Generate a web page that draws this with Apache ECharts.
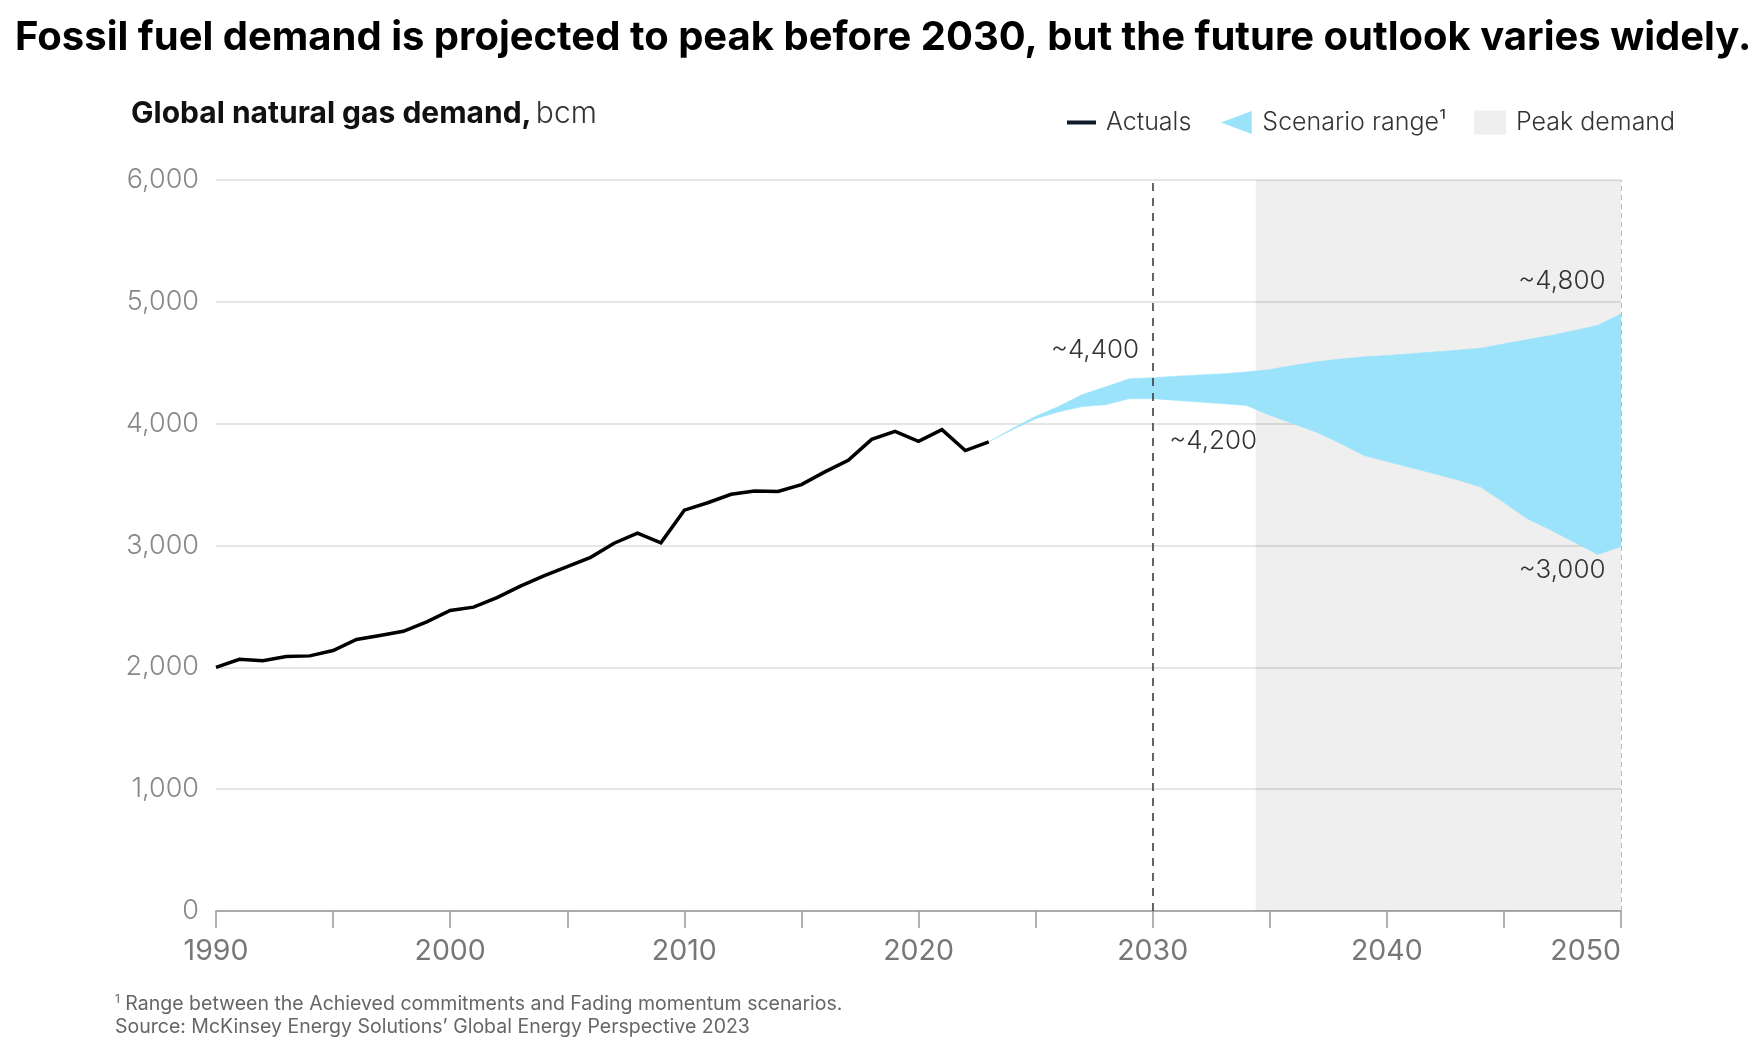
<!DOCTYPE html>
<html>
<head>
<meta charset="utf-8">
<title>Global natural gas demand</title>
<script src="https://cdn.jsdelivr.net/npm/echarts@6/dist/echarts.min.js"></script>
<style>
  html, body { margin: 0; padding: 0; background: #fff; }
  #chart { width: 1756px; height: 1055px; }
</style>
</head>
<body>
<div id="chart"></div>
<script>
// data (bcm)
var actualYears = [1990,1991,1992,1993,1994,1995,1996,1997,1998,1999,2000,2001,2002,2003,2004,2005,2006,2007,2008,2009,2010,2011,2012,2013,2014,2015,2016,2017,2018,2019,2020,2021,2022,2023];
var actuals = [2000,2066,2055,2088,2094,2138,2229,2262,2296,2373,2467,2494,2572,2666,2751,2826,2903,3019,3102,3022,3290,3351,3420,3448,3443,3500,3604,3700,3871,3937,3855,3951,3779,3850];

var scenarioYears = [2023,2024,2025,2026,2027,2028,2029,2030,2031,2032,2033,2034,2035,2036,2037,2038,2039,2040,2041,2042,2043,2044,2045,2046,2047,2048,2049,2050];
var scenarioHigh = [3850,3960,4060,4143,4240,4303,4369,4377,4390,4400,4410,4425,4445,4478,4508,4530,4549,4560,4574,4588,4603,4620,4655,4690,4724,4765,4806,4902];
var scenarioLow = [3850,3950,4040,4098,4140,4156,4205,4205,4191,4177,4164,4150,4070,4000,3930,3840,3740,3690,3640,3590,3540,3481,3352,3220,3127,3027,2926,2990];

var peakStart = 2034.4;
var peakEnd = 2050;
var dividerYear = 2030;

var yTicks = [0, 1000, 2000, 3000, 4000, 5000, 6000];

// annotations: [year, value, text]
var notes = [
    [2030, 4400, '~4,400'],
    [2030, 4200, '~4,200'],
    [2050, 4800, '~4,800'],
    [2050, 3000, '~3,000']
];

var titleText = 'Fossil fuel demand is projected to peak before 2030, but the future outlook varies widely.';

var chart = echarts.init(document.getElementById('chart'));

// fit the headline to the width it has in the picture
var ctx = document.createElement('canvas').getContext('2d');
ctx.font = 'bold 40px Inter';
var titleSize = Math.floor(40 * 1739 / ctx.measureText(titleText).width * 10) / 10;

function pairs(xs, ys) {
    return xs.map(function (x, i) { return [x, ys[i]]; });
}

var noteStyle = [
    {position: [-13, -24], align: 'right'},
    {position: [17, 42], align: 'left'},
    {position: [-15, -45], align: 'right'},
    {position: [-15, 25], align: 'right'}
];

var bandColor = '#9ae3fa';

var option = {
    animation: false,
    backgroundColor: '#fff',
    textStyle: {fontFamily: 'Inter'},
    title: [
        {
            text: titleText, left: 10, top: 35 - titleSize / 2 - 2,
            textStyle: {fontSize: titleSize, fontWeight: 'bold', color: '#000', fontFamily: 'Inter'}
        },
        {
            text: '{b|Global natural gas demand,} {r|bcm}', left: 126, top: 94,
            textStyle: {
                rich: {
                    b: {fontSize: 30, fontWeight: 'bold', color: '#111', fontFamily: 'Inter'},
                    r: {fontSize: 30, fontWeight: 300, color: '#333', fontFamily: 'Inter'}
                }
            }
        },
        {
            text: '{s|1} Range between the Achieved commitments and Fading momentum scenarios.\nSource: McKinsey Energy Solutions\u2019 Global Energy Perspective 2023',
            left: 110, top: 988,
            textStyle: {
                fontSize: 19.5, fontWeight: 'normal', color: '#666', lineHeight: 23, fontFamily: 'Inter',
                rich: {s: {fontSize: 12, fontWeight: 'normal', color: '#666', verticalAlign: 'top', lineHeight: 23}}
            }
        }
    ],
    legend: [
        {
            left: 1062, top: 105, icon: 'rect', itemWidth: 29, itemHeight: 4,
            data: ['Actuals'],
            itemStyle: {borderWidth: 0},
            textStyle: {fontSize: 25, color: '#333', fontWeight: 300, padding: [0, 0, 0, 5]}
        },
        {
            left: 1216, top: 105, icon: 'path://M0,12 L32,0 L32,24 Z', itemWidth: 32, itemHeight: 23,
            data: ['Scenario range\u00b9'],
            itemStyle: {borderWidth: 0},
            textStyle: {fontSize: 25, color: '#333', fontWeight: 300, padding: [0, 0, 0, 5]}
        },
        {
            left: 1469, top: 105, icon: 'rect', itemWidth: 32, itemHeight: 24,
            data: ['Peak demand'],
            itemStyle: {borderWidth: 0},
            textStyle: {fontSize: 25, color: '#333', fontWeight: 300, padding: [0, 0, 0, 5]}
        }
    ],
    grid: {left: 216, right: 135, top: 180, bottom: 144},
    xAxis: {
        type: 'value', min: 1990, max: 2050, interval: 5,
        axisLine: {lineStyle: {color: '#999', width: 1.5}},
        axisTick: {length: 17, lineStyle: {color: '#999', width: 1.5}},
        axisLabel: {
            fontSize: 28.5, color: '#777', margin: 26, alignMaxLabel: 'right',
            formatter: function (v) { return v % 10 === 0 ? String(v) : ''; }
        },
        splitLine: {show: false}
    },
    yAxis: {
        type: 'value', min: yTicks[0], max: yTicks[yTicks.length - 1], interval: 1000,
        axisLine: {show: false},
        axisTick: {show: false},
        axisLabel: {
            fontSize: 27, color: '#888', margin: 17, fontWeight: 300,
            formatter: function (v) { return v.toLocaleString('en-US'); }
        },
        splitLine: {lineStyle: {color: '#dcdcdc', width: 1.5}}
    },
    series: [
        {
            name: 'Peak demand', type: 'line', data: [], z: 1,
            itemStyle: {color: '#efefef'},
            markArea: {
                silent: true,
                itemStyle: {color: 'rgba(0,0,0,0.063)'},
                data: [[{xAxis: peakStart}, {xAxis: peakEnd}]]
            }
        },
        {
            // band between the two scenarios, drawn as one polygon through the axes
            name: 'Scenario range\u00b9', type: 'custom', z: 2, silent: true,
            data: scenarioYears.map(function (y, i) { return [y, scenarioLow[i], scenarioHigh[i]]; }),
            encode: {x: 0, y: [1, 2]},
            itemStyle: {color: bandColor},
            renderItem: function (params, api) {
                if (params.dataIndex !== 0) return null;
                var pts = [];
                for (var i = 0; i < scenarioYears.length; i++) {
                    pts.push(api.coord([scenarioYears[i], scenarioHigh[i]]));
                }
                for (var j = scenarioYears.length - 1; j >= 0; j--) {
                    pts.push(api.coord([scenarioYears[j], scenarioLow[j]]));
                }
                return {
                    type: 'polygon',
                    shape: {points: pts},
                    style: {fill: bandColor, stroke: bandColor, lineWidth: 0.5}
                };
            }
        },
        {
            name: 'Actuals', type: 'line', z: 4,
            data: pairs(actualYears, actuals),
            symbol: 'none',
            itemStyle: {color: '#0d1b2a'},
            lineStyle: {color: '#000', width: 3.5, join: 'miter'},
            markLine: {
                silent: true, symbol: 'none',
                label: {show: false},
                data: [
                    [{coord: [dividerYear, 0], lineStyle: {color: '#333', width: 1.5, type: [8, 7]}},
                     {coord: [dividerYear, 6000]}],
                    [{coord: [peakEnd, 0], lineStyle: {color: '#bbb', width: 1, type: [5, 4]}},
                     {coord: [peakEnd, 6000]}]
                ]
            },
            markPoint: {
                silent: true, symbol: 'circle', symbolSize: 1,
                itemStyle: {color: 'rgba(0,0,0,0)'},
                data: notes.map(function (n, i) {
                    return {
                        coord: [n[0], n[1]],
                        label: {
                            show: true, formatter: n[2],
                            position: noteStyle[i].position, align: noteStyle[i].align,
                            verticalAlign: 'middle',
                            fontSize: 26, color: '#333', fontWeight: 300, fontFamily: 'Inter'
                        }
                    };
                })
            }
        }
    ]
};

chart.setOption(option);
</script>
</body>
</html>
